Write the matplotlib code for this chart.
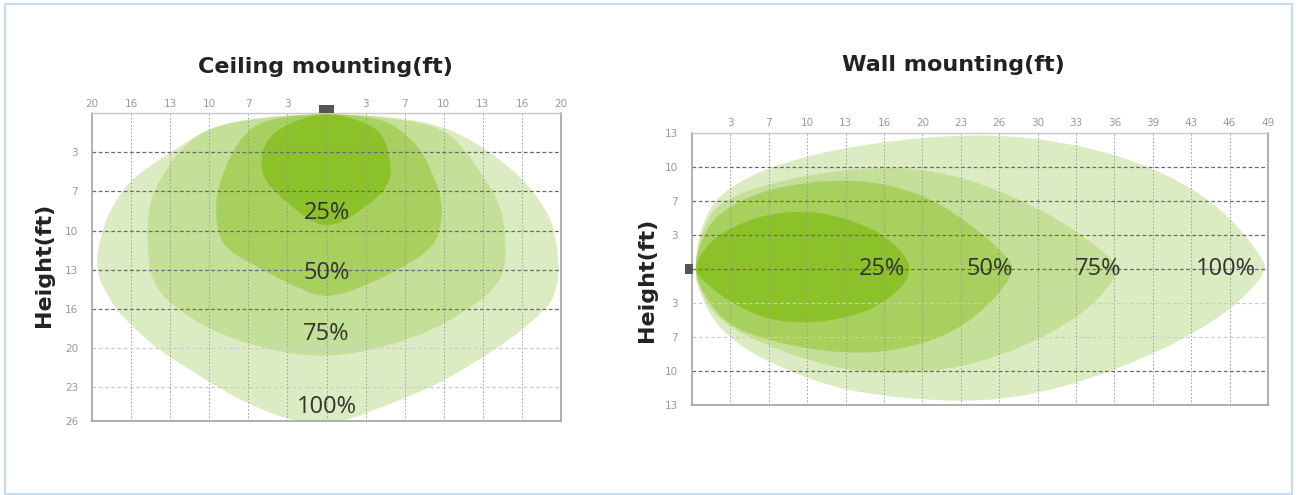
import matplotlib
matplotlib.use('Agg')
import matplotlib.pyplot as plt
from matplotlib.path import Path
from matplotlib.patches import PathPatch, Rectangle

# ---------------- ceiling mounting (x: m from lamp, y: m below lamp) ----------------
ceil_xticks = [-6, -5, -4, -3, -2, -1, 0, 1, 2, 3, 4, 5, 6]
ceil_xlabels = ['20', '16', '13', '10', '7', '3', '', '3', '7', '10', '13', '16', '20']
ceil_yticks = [1, 2, 3, 4, 5, 6, 7, 7.86]
ceil_ylabels = ['3', '7', '10', '13', '16', '20', '23', '26']

ceil_100_x = [0, 2.03, 3.15, 4.17, 4.94, 5.28, 5.62, 5.84, 5.97, 5.84, 5.58, 4.99, 4.3, 3.28, 2.43, 1.32, 0.38,
              -0.72, -1.75, -2.6, -3.28, -4.3, -4.85, -5.37, -5.58, -5.93, -5.74, -5.53, -5.23, -4.89, -3.95, -3.0, -1.98]
ceil_100_y = [0, 0.13, 0.39, 0.97, 1.61, 2.0, 2.48, 2.98, 3.99, 4.68, 5.03, 5.55, 6.05, 6.68, 7.11, 7.54, 7.9,
              7.9, 7.54, 7.11, 6.68, 6.05, 5.55, 5.03, 4.68, 3.99, 2.98, 2.48, 2.0, 1.61, 0.97, 0.39, 0.13]

ceil_75_x = [0, 1.8, 3.0, 3.57, 4.0, 4.26, 4.48, 4.56, 4.6, 4.3, 3.6, 2.69, 1.58, 0.38,
             -0.72, -1.84, -2.94, -3.79, -4.35, -4.55, -4.59, -4.55, -4.42, -4.2, -3.78, -3.1, -1.8]
ceil_75_y = [0, 0.13, 0.39, 0.97, 1.61, 2.0, 2.48, 2.98, 3.9, 4.5, 5.03, 5.55, 5.95, 6.2,
             6.18, 5.95, 5.55, 5.03, 4.5, 3.9, 2.98, 2.48, 2.0, 1.61, 0.97, 0.39, 0.13]

ceil_50_x = [0, 1.35, 1.86, 2.46, 2.73, 2.89, 2.97, 2.9, 2.7, 1.85, 0.78, 0,
             -0.68, -1.65, -2.6, -2.78, -2.84, -2.79, -2.67, -2.41, -1.98, -1.38]
ceil_50_y = [0, 0.13, 0.39, 0.97, 1.61, 2.0, 2.5, 3.0, 3.46, 4.0, 4.5, 4.72,
             4.5, 4.0, 3.46, 3.0, 2.5, 2.0, 1.61, 0.97, 0.39, 0.13]

ceil_25_x = [0, 0.67, 1.3, 1.52, 1.62, 1.66, 1.44, 1.0, 0.5, 0,
             -0.44, -0.87, -1.3, -1.64, -1.68, -1.56, -1.21, -0.62]
ceil_25_y = [0, 0.13, 0.39, 0.74, 1.17, 1.61, 2.04, 2.39, 2.74, 2.9,
             2.74, 2.39, 2.04, 1.61, 1.17, 0.74, 0.39, 0.13]

ceil_labels = ['25%', '50%', '75%', '100%']
ceil_label_y = [2.56, 4.08, 5.65, 7.5]

# ---------------- wall mounting (x: m from wall, y: m above/below lamp) ----------------
wall_xticks = list(range(1, 16))
wall_xlabels = ['3', '7', '10', '13', '16', '20', '23', '26', '30', '33', '36', '39', '43', '46', '49']
wall_yticks = [-4, -3, -2, -1, 0, 1, 2, 3, 4]
wall_ylabels = ['13', '10', '7', '3', '', '3', '7', '10', '13']

wall_100_x = [0, 0.4, 1.5, 2.65, 3.77, 4.9, 6.02, 7.15, 8.28, 9.4, 10.53, 11.66, 12.78, 13.68, 14.36, 14.81, 14.98,
              14.58, 13.91, 12.78, 11.66, 10.53, 9.4, 8.28, 7.15, 6.02, 4.9, 3.77, 2.65, 1.52, 0.73, 0.3]
wall_100_y = [0, 1.9, 2.75, 3.2, 3.5, 3.7, 3.85, 3.92, 3.9, 3.75, 3.5, 3.1, 2.53, 1.84, 1.06, 0.37, 0,
              -0.61, -1.29, -2.08, -2.67, -3.16, -3.55, -3.8, -3.89, -3.84, -3.72, -3.5, -3.06, -2.47, -1.78, -1.0]

wall_75_x = [0, 0.4, 1.0, 2.0, 3.5, 4.9, 6.0, 7.15, 8.3, 9.4, 10.3, 10.95, 11.15,
             10.75, 9.96, 8.84, 7.71, 6.6, 5.46, 4.33, 3.2, 2.08, 1.0, 0.4]
wall_75_y = [0, 1.6, 2.1, 2.5, 2.85, 2.97, 2.92, 2.65, 2.15, 1.55, 0.86, 0.28, 0,
             -0.71, -1.49, -2.18, -2.67, -2.96, -3.08, -3.02, -2.75, -2.3, -1.75, -1.1]

wall_50_x = [0, 0.4, 1.0, 1.9, 2.9, 3.8, 4.7, 5.5, 6.3, 7.0, 7.7, 8.2, 8.4,
             8.1, 7.5, 6.8, 6.0, 5.0, 4.0, 3.0, 2.0, 1.0, 0.4]
wall_50_y = [0, 1.3, 1.85, 2.3, 2.52, 2.6, 2.55, 2.35, 2.0, 1.5, 0.9, 0.35, 0,
             -0.6, -1.3, -1.85, -2.2, -2.45, -2.47, -2.35, -2.1, -1.7, -0.95]

wall_25_x = [0, 0.45, 1.0, 1.86, 2.8, 3.6, 4.46, 5.1, 5.5, 5.72,
             5.5, 5.0, 4.46, 3.6, 2.73, 1.86, 1.0, 0.45]
wall_25_y = [0, 0.78, 1.2, 1.58, 1.7, 1.6, 1.3, 0.9, 0.45, 0,
             -0.5, -0.98, -1.3, -1.53, -1.6, -1.45, -0.98, -0.52]

wall_labels = ['25%', '50%', '75%', '100%']
wall_label_x = [4.95, 7.75, 10.58, 13.9]

GREENS = ['#dcecc2', '#c4df98', '#a8d05e', '#8bc22a']   # 100, 75, 50, 25 %
DARK_GRID = '#6a6a6a'
LIGHT_GRID = '#cccccc'
VGRID = '#9a9a9a'


def blob(ax, xs, ys, color):
    # smooth closed outline through the read-off points (quadratic B-spline)
    pts = list(zip(xs, ys))
    n = len(pts)
    mids = [((pts[i][0] + pts[(i + 1) % n][0]) / 2, (pts[i][1] + pts[(i + 1) % n][1]) / 2) for i in range(n)]
    verts = [mids[-1]]
    codes = [Path.MOVETO]
    for i in range(n):
        verts += [pts[i], mids[i]]
        codes += [Path.CURVE3, Path.CURVE3]
    verts.append(mids[-1])
    codes.append(Path.CLOSEPOLY)
    ax.add_patch(PathPatch(Path(verts, codes), fc=color, ec='none', lw=0, zorder=1))


def style_axes(ax):
    ax.xaxis.tick_top()
    ax.tick_params(axis='both', length=0, labelsize=7.5, labelcolor='#999999')
    ax.tick_params(axis='x', pad=3)
    ax.tick_params(axis='y', pad=10)
    for side in ['left', 'right', 'bottom']:
        ax.spines[side].set_color('#9a9a9a')
        ax.spines[side].set_linewidth(1.1)
    ax.spines['top'].set_color('#c8c8c8')
    ax.spines['top'].set_linewidth(1.0)


fig = plt.figure(figsize=(12.99, 4.95), dpi=100)

# outer light-blue frame
fig.patches.append(Rectangle((0.004, 0.002), 0.9905, 0.99, transform=fig.transFigure, fill=False,
                             ec='#c3dcee', lw=1.6, zorder=0))

# ---- left: ceiling mounting ----
ax1 = fig.add_axes([0.0708, 0.1495, 0.3611, 0.6222])
ax1.set_xlim(-6, 6)
ax1.set_ylim(7.86, 0)
for (xs, ys), c in zip([(ceil_100_x, ceil_100_y), (ceil_75_x, ceil_75_y),
                        (ceil_50_x, ceil_50_y), (ceil_25_x, ceil_25_y)], GREENS):
    blob(ax1, xs, ys, c)
for t in ceil_xticks[1:-1]:
    ax1.axvline(t, color=VGRID, lw=0.7, ls=(0, (1.5, 2.2)), zorder=2)
for t in ceil_yticks[:-1]:
    ax1.axhline(t, color=DARK_GRID if t <= 5 else LIGHT_GRID, lw=0.9, ls=(0, (3, 2)), zorder=2)
ax1.set_xticks(ceil_xticks)
ax1.set_xticklabels(ceil_xlabels)
ax1.set_yticks(ceil_yticks)
ax1.set_yticklabels(ceil_ylabels)
style_axes(ax1)
ax1.add_patch(Rectangle((-0.19, -0.2), 0.38, 0.19, fc='#555555', ec='none', clip_on=False, zorder=5))
for lab, y in zip(ceil_labels, ceil_label_y):
    ax1.text(0, y, lab, ha='center', va='center', fontsize=17, color='#333333',
             family='Open Sans', zorder=4)

# ---- right: wall mounting ----
ax2 = fig.add_axes([0.5327, 0.1818, 0.4434, 0.5505])
ax2.set_xlim(0, 15)
ax2.set_ylim(-4, 4)
for (xs, ys), c in zip([(wall_100_x, wall_100_y), (wall_75_x, wall_75_y),
                        (wall_50_x, wall_50_y), (wall_25_x, wall_25_y)], GREENS):
    blob(ax2, xs, ys, c)
for t in wall_xticks[:-1]:
    ax2.axvline(t, color=VGRID, lw=0.7, ls=(0, (1.5, 2.2)), zorder=2)
for t in wall_yticks[1:-1]:
    ax2.axhline(t, color=LIGHT_GRID if t in (-1, -2) else DARK_GRID, lw=0.9, ls=(0, (3, 2)), zorder=2)
ax2.set_xticks(wall_xticks)
ax2.set_xticklabels(wall_xlabels)
ax2.set_yticks(wall_yticks)
ax2.set_yticklabels(wall_ylabels)
style_axes(ax2)
ax2.add_patch(Rectangle((-0.17, -0.14), 0.19, 0.29, fc='#555555', ec='none', clip_on=False, zorder=5))
for lab, x in zip(wall_labels, wall_label_x):
    ax2.text(x, 0, lab, ha='center', va='center', fontsize=17, color='#333333',
             family='Open Sans', zorder=4)

# titles and axis names
fig.text(0.2502, 0.8646, 'Ceiling mounting(ft)', ha='center', va='center',
         fontsize=16, fontweight='bold', color='#222222')
fig.text(0.7336, 0.8687, 'Wall mounting(ft)', ha='center', va='center',
         fontsize=16, fontweight='bold', color='#222222')
fig.text(0.0339, 0.4646, 'Height(ft)', rotation=90, ha='center', va='center',
         fontsize=16, fontweight='bold', color='#222222')
fig.text(0.4978, 0.4343, 'Height(ft)', rotation=90, ha='center', va='center',
         fontsize=16, fontweight='bold', color='#222222')

fig.savefig('out.png', dpi=100)
